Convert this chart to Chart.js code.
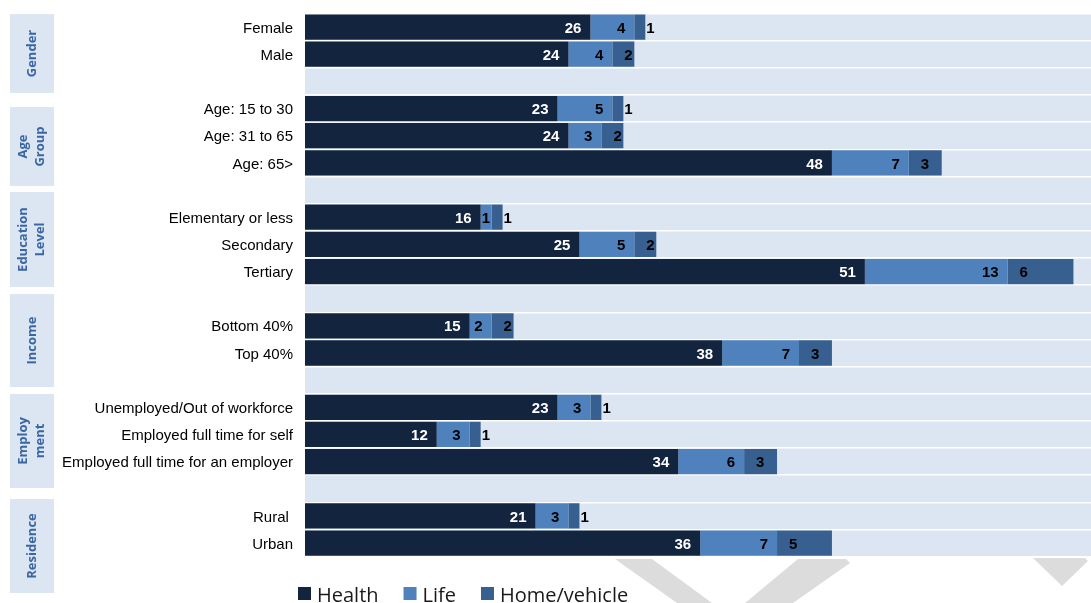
<!DOCTYPE html>
<html>
<head>
<meta charset="utf-8">
<title>Insurance coverage by group</title>
<script src="https://cdn.jsdelivr.net/npm/chart.js@4.4.1/dist/chart.umd.min.js"></script>
<style>
  html, body { margin: 0; padding: 0; background: #ffffff; }
  #wrap { width: 1091px; height: 603px; }
</style>
</head>
<body>
<div id="wrap"><canvas id="chart" width="1091" height="603"></canvas></div>
<script>
// Row labels; empty strings are spacer rows between groups
const categories = [
  'Female', 'Male', '',
  'Age: 15 to 30', 'Age: 31 to 65', 'Age: 65>', '',
  'Elementary or less', 'Secondary', 'Tertiary', '',
  'Bottom 40%', 'Top 40%', '',
  'Unemployed/Out of workforce', 'Employed full time for self', 'Employed full time for an employer', '',
  'Rural ', 'Urban'
];

const health = [26, 24, null, 23, 24, 48, null, 16, 25, 51, null, 15, 38, null, 23, 12, 34, null, 21, 36];
const life   = [4, 4, null, 5, 3, 7, null, 1, 5, 13, null, 2, 7, null, 3, 3, 6, null, 3, 7];
const home   = [1, 2, null, 1, 2, 3, null, 1, 2, 6, null, 2, 3, null, 1, 1, 3, null, 1, 5];

const seriesNames = ['Health', 'Life', 'Home/vehicle'];

// Group captions shown in the side boxes (one entry per line)
const groupNames = [['Gender'], ['Age', 'Group'], ['Education', 'Level'], ['Income'], ['Employ', 'ment'], ['Residence']];

// ---- styling ----
const COLORS = { health: '#13243f', life: '#4f81bd', home: '#375f8f' };
const PLOT_BG = '#dce6f2';
const BOX_BG = '#dce6f2';
const BOX_TEXT = '#3a66a3';
const BASE_FONT = "'Liberation Sans', Arial, sans-serif";

// side boxes: [x, top, width, bottom]
const groupBoxes = [
  [10, 14, 44, 93],
  [10, 107, 44, 186],
  [10, 192, 44, 287],
  [10, 294, 44, 387],
  [10, 394, 44, 488],
  [10, 499, 44, 593]
];

// Plot background + side boxes + faint page ornaments
const backdrop = {
  id: 'backdrop',
  beforeDraw(chart) {
    const { ctx, chartArea: a } = chart;
    ctx.save();
    // faint grey chevrons under the plot
    ctx.fillStyle = '#dcdcdc';
    const shapes = [
      [[615, 559], [652, 559], [712, 603], [677, 603]],
      [[798, 559], [846, 559], [850, 563], [793, 603], [745, 603]],
      [[1033, 558], [1085, 558], [1088, 561], [1062, 586]]
    ];
    shapes.forEach(pts => {
      ctx.beginPath();
      pts.forEach((p, i) => i ? ctx.lineTo(p[0], p[1]) : ctx.moveTo(p[0], p[1]));
      ctx.closePath();
      ctx.fill();
    });
    // plot area band
    ctx.fillStyle = PLOT_BG;
    ctx.fillRect(a.left, a.top, a.right - a.left, a.bottom - a.top);
    // group boxes with rotated captions
    groupBoxes.forEach((b, gi) => {
      const [x, top, w, bottom] = b;
      ctx.fillStyle = BOX_BG;
      ctx.fillRect(x, top, w, bottom - top);
      const lines = groupNames[gi];
      ctx.save();
      ctx.translate(x + w / 2, (top + bottom) / 2);
      ctx.rotate(-Math.PI / 2);
      ctx.fillStyle = BOX_TEXT;
      ctx.font = "bold 13px 'Open Sans', sans-serif";
      ctx.textAlign = 'center';
      ctx.textBaseline = 'middle';
      const lh = 17.5;
      lines.forEach((t, i) => ctx.fillText(t, 0, (i - (lines.length - 1) / 2) * lh));
      ctx.restore();
    });
    ctx.restore();
  }
};

// Value labels on each segment
const valueLabels = {
  id: 'valueLabels',
  afterDatasetsDraw(chart) {
    const { ctx } = chart;
    ctx.save();
    ctx.font = 'bold 15px ' + BASE_FONT;
    ctx.textBaseline = 'middle';
    chart.data.datasets.forEach((ds, di) => {
      const meta = chart.getDatasetMeta(di);
      meta.data.forEach((el, i) => {
        const v = ds.data[i];
        if (v === null || v === undefined) return;
        const { x, y, base } = el.getProps(['x', 'y', 'base'], true);
        const txt = String(v);
        const w = ctx.measureText(txt).width;
        if (di === 0) {
          ctx.fillStyle = '#ffffff';
          ctx.textAlign = 'right';
          ctx.fillText(txt, x - 9, y + 1.5);
        } else if (di === 1) {
          ctx.fillStyle = '#000000';
          ctx.textAlign = 'right';
          ctx.fillText(txt, Math.max(x - 9, base + w + 1), y + 1.5);
        } else {
          ctx.fillStyle = '#000000';
          ctx.textAlign = 'left';
          ctx.fillText(txt, base + 12, y + 1.5);
        }
      });
    });
    ctx.restore();
  }
};

// Legend row under the chart
const legendRow = {
  id: 'legendRow',
  afterDraw(chart) {
    const { ctx } = chart;
    ctx.save();
    ctx.font = "20px 'Open Sans', sans-serif";
    ctx.textBaseline = 'alphabetic';
    ctx.textAlign = 'left';
    let x = 298;
    chart.data.datasets.forEach(ds => {
      ctx.fillStyle = ds.backgroundColor;
      ctx.fillRect(x, 587, 13, 13);
      ctx.fillStyle = '#1a1a1a';
      ctx.fillText(ds.label, x + 19, 602);
      x += 19 + ctx.measureText(ds.label).width + 25;
    });
    ctx.restore();
  }
};

new Chart(document.getElementById('chart'), {
  type: 'bar',
  data: {
    labels: categories,
    datasets: [
      { label: seriesNames[0], data: health, backgroundColor: COLORS.health },
      { label: seriesNames[1], data: life, backgroundColor: COLORS.life },
      { label: seriesNames[2], data: home, backgroundColor: COLORS.home }
    ]
  },
  options: {
    indexAxis: 'y',
    responsive: false,
    animation: false,
    devicePixelRatio: 1,
    barPercentage: 0.93,
    categoryPercentage: 1,
    layout: { padding: { left: 0, right: 0, top: 13.5, bottom: 46.3 } },
    plugins: {
      legend: { display: false },
      tooltip: { enabled: false }
    },
    scales: {
      x: {
        stacked: true,
        display: false,
        min: 0,
        max: 71.6
      },
      y: {
        stacked: true,
        afterFit(scale) {
          scale.width = 305;
          scale.paddingTop = 0;
          scale.paddingBottom = 0;
        },
        grid: { color: '#ffffff', lineWidth: 1.5, offset: true, drawTicks: false },
        border: { display: false },
        ticks: {
          padding: 12,
          labelOffset: 1.5,
          color: '#000000',
          font: { family: BASE_FONT, size: 15 },
          autoSkip: false
        }
      }
    }
  },
  plugins: [backdrop, valueLabels, legendRow]
});
</script>
</body>
</html>
